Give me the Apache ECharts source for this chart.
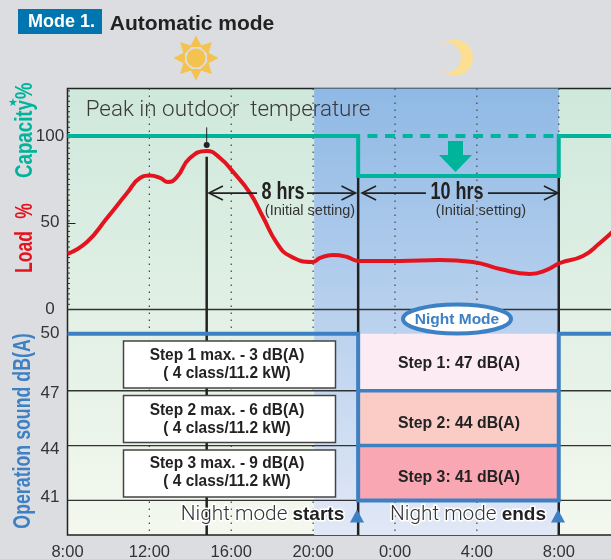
<!DOCTYPE html>
<html><head><meta charset="utf-8">
<style>html,body{margin:0;padding:0;background:#dcdde0;overflow:hidden}#c{width:611px;height:559px}</style>
<script src="https://cdn.jsdelivr.net/npm/echarts@6/dist/echarts.min.js"></script>
</head><body><div id="c"></div>
<script>
const hourTicks=[8,12,16,20,24,28,32];
const dottedHours=[12,16,20,24,28,32];
const loadTicks=[0,50,100];
const loadMinorTicks=[0,3,6,9,12,15,18,21,24,27,30,33,36,39,42,45,48,51,54,57,60,63,66,69,72,75,78,81,84,87,90,93,96,99,102,105,108,111,114,117,120,123,126];
const soundTickLabels=[50,46.8,43.77,41.18];
const rowLevels=[46.92,43.96,41];
const loadHours=[8,8.95,9.93,10.91,11.54,12.03,12.52,12.91,13.35,13.98,14.81,15.45,16.09,16.92,17.55,18.23,18.87,19.99,20.34,20.97,21.66,22.2,24.24,26.2,27.8,29.13,30.59,31.42,32.06,33.18,34.01,34.65];
const loadValues=[32,38.9,52.7,67.1,75.8,77.2,75.8,73.5,76.4,87.3,91.4,87.3,79.3,67.1,53.3,38.3,30.8,27.4,29.7,31.4,30.3,28,28,28.5,27.4,23.3,20.5,22.8,26.8,30.8,38.3,45];
const capacityHours=[8,22.2,22.2,32,32,34.65];
const capacityValues=[100,100,77,77,100,100];
const capacityDashed=[[22.2,100],[32,100]];
const soundHours=[8,22.2,22.2,32,32,34.65];
const soundLevels=[50,50,41,41,50,50];
const nightStart=20.05,nightEnd=32,quietStart=22.2,peakHour=14.8;
const stepFills=[[50,46.92,'#fdebf3'],[46.92,43.96,'#fbccc6'],[43.96,41,'#f9a8b3']];
const arrowSpans=[[14.91,17.26,19.7,22.07,67.1],[22.39,25.51,28.54,31.96,67.1]];
const LMIN=-129.97,LMAX=127.38,SMIN=39.13,SMAX=63.25,XMAX=34.65;
const BLUE='#3d80c4',GREEN='#00b49c',RED='#e3141f',DARK='#222';
const F='"Liberation Sans",Arial,sans-serif',L='Roboto,"Liberation Sans",sans-serif';
const grad=(a,b)=>new echarts.graphic.LinearGradient(0,0,0,1,[{offset:0,color:a},{offset:1,color:b}]);
function line(api,p,q,stroke,w,dash){const a=api.coord(p),b=api.coord(q);
  return {type:'line',shape:{x1:a[0],y1:a[1],x2:b[0],y2:b[1]},style:{stroke,lineWidth:w,lineDash:dash||null}};}
const txt=(x,y,text,font,fill,extra)=>({type:'text',x,y,z:100,style:Object.assign({text,font,fill,align:'center',verticalAlign:'middle'},extra||{})});
const rotUp=(x,y,text,font,fill,sx)=>Object.assign(txt(x,y,text,font,fill),{rotation:Math.PI/2,scaleX:sx});
const narrow=(x,y,text,font,fill,sx)=>Object.assign(txt(x,y,text,font,fill),{scaleX:sx});
const box=(y)=>({type:'rect',z:99,shape:{x:123.5,y,width:212,height:47},style:{fill:'#fff',stroke:'#444',lineWidth:1.5}});
const boxT=(cx,y,a)=>[narrow(cx,y-9,a,'bold 17px '+F,DARK,.91),narrow(cx,y+9,'( 4 class/11.2 kW)','bold 17px '+F,DARK,.91)];
const sunRays=[];
for(let i=0;i<8;i++){const t=i*Math.PI/4,r=22.5,w=6,b=11;
  sunRays.push({type:'polygon',z:100,shape:{points:[[196+r*Math.cos(t),58+r*Math.sin(t)],[196+b*Math.cos(t)-w*Math.sin(t),58+b*Math.sin(t)+w*Math.cos(t)],[196+b*Math.cos(t)+w*Math.sin(t),58+b*Math.sin(t)-w*Math.cos(t)]]},style:{fill:'#f3c24f'}});}
const moonPts=[];
for(let i=-12;i<=12;i++){const t=i/12*2.43;moonPts.push([455+18*Math.cos(t),57.5+18*Math.sin(t)]);}
for(let i=12;i>=-12;i--){const t=i/12*1.8;moonPts.push([445.6+15.4*Math.cos(t),57.5+15.4*Math.sin(t)]);}
const nightLabel=(x,a,b)=>({type:'text',x,y:515,z:100,style:{text:'{a|'+a+' }{b|'+b+'}',align:'center',verticalAlign:'middle',
  rich:{a:{font:'300 20.8px '+L,fill:'#333',stroke:'#fff',lineWidth:3},b:{font:'bold 19px '+F,fill:DARK,stroke:'#fff',lineWidth:3}}}});
const tri=(x)=>({type:'polygon',z:100,shape:{points:[[x,509.5],[x+7,522.5],[x-7,522.5]]},style:{fill:BLUE}});
const graphics=[
 {type:'rect',z:100,shape:{x:18,y:9,width:84,height:25},style:{fill:'#0075b0'}},
 txt(61.5,22,'Mode 1.','bold 18px '+F,'#fff'),
 txt(192,24,'Automatic mode','bold 21px '+F,'#222'),
 {type:'circle',z:100,shape:{cx:196,cy:58,r:9.5},style:{fill:'#f3c24f'}},
 ...sunRays,
 {type:'polygon',z:100,shape:{points:moonPts},style:{fill:'#fddf94'}},
 txt(228,110,'Peak in outdoor  temperature','300 22.4px '+L,'#3a3a3a'),
 rotUp(25,139,'Capacity','bold 24px '+F,GREEN,.78),
 rotUp(25,91,'%','bold 24px '+F,GREEN,.78),
 txt(13,103,'★','11px "DejaVu Sans"',GREEN),
 rotUp(25,252,'Load','bold 24px '+F,RED,.73),
 rotUp(25,211,'%','bold 24px '+F,RED,.73),
 rotUp(23,431,'Operation sound dB(A)','bold 24px '+F,BLUE,.74),
 {type:'polygon',z:100,shape:{points:[[448,141],[463,141],[463,155],[472,155],[455.5,172],[439,155],[448,155]]},style:{fill:GREEN}},
 narrow(283,192,'8 hrs','bold 24px '+F,DARK,.75),
 narrow(457,192,'10 hrs','bold 24px '+F,DARK,.75),
 txt(310,211,'(Initial setting)','14.5px '+F,'#333'),
 txt(481,211,'(Initial setting)','14.5px '+F,'#333'),
 {type:'ellipse',z:100,shape:{cx:457,cy:319,rx:54,ry:14.5},style:{fill:'#fff',stroke:BLUE,lineWidth:4}},
 txt(457,320,'Night Mode','bold 15.5px '+F,BLUE),
 box(341),box(395.5),box(450),
 ...boxT(227,364,'Step 1 max. - 3 dB(A)'),
 ...boxT(227,419,'Step 2 max. - 6 dB(A)'),
 ...boxT(227,472.5,'Step 3 max. - 9 dB(A)'),
 narrow(459,363,'Step 1: 47 dB(A)','bold 17px '+F,DARK,.93),
 narrow(459,423,'Step 2: 44 dB(A)','bold 17px '+F,DARK,.93),
 narrow(459,477,'Step 3: 41 dB(A)','bold 17px '+F,DARK,.93),
 nightLabel(262.5,'Night mode','starts'),
 nightLabel(468,'Night mode','ends'),
 tri(357),tri(558)
];
const zipXY=(a,b)=>a.map((v,i)=>[v,b[i]]);
const option={
 animation:false,backgroundColor:'#dcdde0',
 graphic:{elements:graphics},
 grid:{left:67.5,top:88.5,width:545.5,height:446.5,outerBoundsMode:'none',show:true,backgroundColor:grad('#cfe8dc','#f4f8ee'),borderColor:'#222',borderWidth:1.5},
 xAxis:{type:'value',min:8,max:XMAX,interval:4,axisLine:{show:false},axisTick:{show:false},splitLine:{show:false},
   axisLabel:{customValues:hourTicks,margin:9,fontFamily:F,fontSize:16.5,color:'#333',formatter:v=>(v%24)+':00'}},
 yAxis:[
  {type:'value',min:LMIN,max:LMAX,position:'left',splitLine:{show:false},axisLine:{show:false},
   axisTick:{show:true,inside:true,length:8,customValues:loadTicks,lineStyle:{color:'#222'}},
   axisLabel:{customValues:loadTicks,margin:17.5,align:'center',fontFamily:F,fontSize:17,color:'#333'}},
  {type:'value',min:SMIN,max:SMAX,position:'left',splitLine:{show:false},axisLine:{show:false},axisTick:{show:false},
   axisLabel:{customValues:soundTickLabels,margin:17.5,align:'center',fontFamily:F,fontSize:17,color:'#333',formatter:v=>String(Math.round(v))}}
 ],
 series:[
  {type:'custom',z:1,silent:true,data:[[nightStart,nightEnd]],encode:{x:[0,1]},renderItem:(p,api)=>{
    const a=api.coord([api.value(0),LMAX]),b=api.coord([api.value(1),LMIN]);
    return {type:'rect',shape:{x:a[0],y:a[1],width:b[0]-a[0],height:b[1]-a[1]},style:{fill:grad('#8fb9e5','#e1e8f6')}};}},
  {type:'custom',z:2,silent:true,data:dottedHours.map(h=>[h]),encode:{x:0},renderItem:(p,api)=>
    line(api,[api.value(0),LMAX],[api.value(0),LMIN],'#444',1.2,[1.5,5.5])},
  {type:'custom',z:2,silent:true,clip:false,data:loadMinorTicks.map(v=>[v]),encode:{y:0},renderItem:(p,api)=>{
    const a=api.coord([8,api.value(0)]);
    return {type:'line',shape:{x1:a[0],y1:a[1],x2:a[0]+2.5,y2:a[1]},style:{stroke:'#333',lineWidth:1}};}},
  {type:'custom',z:3,silent:true,yAxisIndex:1,data:rowLevels.map(v=>[v]),encode:{y:0},renderItem:(p,api)=>
    line(api,[8,api.value(0)],[XMAX,api.value(0)],'#333',1.4)},
  {type:'custom',z:3,silent:true,data:[[0]],encode:{y:0},renderItem:(p,api)=>line(api,[8,api.value(0)],[XMAX,api.value(0)],'#333',1.4)},
  {type:'custom',z:4,silent:true,data:[[peakHour,91],[quietStart,77],[nightEnd,77]],encode:{x:0,y:1},renderItem:(p,api)=>
    line(api,[api.value(0),api.value(1)-(p.dataIndex?0:3)],[api.value(0),LMIN],'#222',2.5)},
  {type:'custom',z:5,silent:true,yAxisIndex:1,data:stepFills,encode:{y:[0,1]},renderItem:(p,api)=>{
    const a=api.coord([quietStart,api.value(0)]),b=api.coord([nightEnd,api.value(1)]);
    return {type:'rect',shape:{x:a[0],y:a[1],width:b[0]-a[0],height:b[1]-a[1]},style:{fill:stepFills[p.dataIndex][2]}};}},
  {type:'custom',z:6,silent:true,yAxisIndex:1,data:rowLevels.slice(0,2).map(v=>[v]),encode:{y:0},renderItem:(p,api)=>
    line(api,[quietStart,api.value(0)],[nightEnd,api.value(0)],BLUE,3.5)},
  {type:'line',z:7,yAxisIndex:1,data:zipXY(soundHours,soundLevels),showSymbol:false,silent:true,lineStyle:{color:BLUE,width:4,join:'miter'}},
  {type:'line',z:8,data:zipXY(loadHours,loadValues),smooth:0.5,showSymbol:false,silent:true,lineStyle:{color:RED,width:4}},
  {type:'line',z:9,data:zipXY(capacityHours,capacityValues),showSymbol:false,silent:true,lineStyle:{color:GREEN,width:4,join:'miter'}},
  {type:'line',z:9,data:capacityDashed,showSymbol:false,silent:true,lineStyle:{color:GREEN,width:4,type:[10,7.6],dashOffset:-9.3}},
  {type:'line',z:9,data:[[peakHour,105],[peakHour,94.8]],symbol:'circle',symbolSize:v=>v[1]>100?0:6,silent:true,itemStyle:{color:'#222'},lineStyle:{color:'#222',width:1}},
  {type:'custom',z:10,silent:true,data:arrowSpans,encode:{x:[0,1,2,3],y:4},renderItem:(p,api)=>{
    const y=api.value(4),A=api.coord([api.value(0),y]),D=api.coord([api.value(3),y]);
    const st={stroke:'#222',lineWidth:1.6,fill:'none'};
    return {type:'group',children:[line(api,[api.value(0),y],[api.value(1),y],'#222',1.6),line(api,[api.value(2),y],[api.value(3),y],'#222',1.6),
      {type:'polyline',shape:{points:[[A[0]+14,A[1]-7],A,[A[0]+14,A[1]+7]]},style:st},
      {type:'polyline',shape:{points:[[D[0]-14,D[1]-7],D,[D[0]-14,D[1]+7]]},style:st}]};}}
 ]
};
echarts.init(document.getElementById('c'),null,{renderer:'canvas'}).setOption(option);
</script></body></html>
